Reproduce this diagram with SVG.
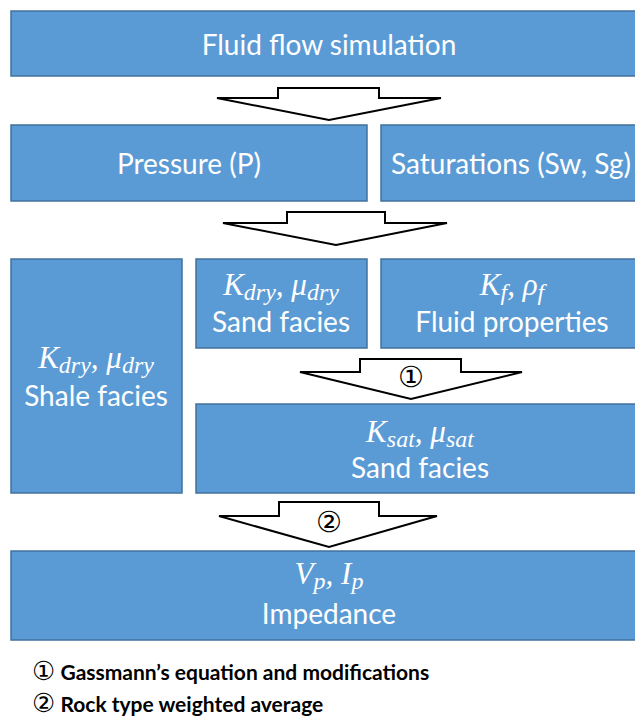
<svg xmlns="http://www.w3.org/2000/svg" width="635" height="717" viewBox="0 0 635 717">
  <style>
    .box { fill: #5b9bd5; stroke: #41719c; stroke-width: 1.5; }
    .lbl { font-family: Lato, "Open Sans", sans-serif; font-size: 28px; fill: #ffffff; text-anchor: middle; }
    .math { font-family: "Liberation Serif", "DejaVu Serif", serif; font-style: italic; font-size: 31px; fill: #ffffff; text-anchor: middle; }
    .sub { font-size: 24px; }
    .arrow { fill: #ffffff; stroke: #000000; stroke-width: 2; stroke-linejoin: miter; }
    .num { font-family: "DejaVu Sans", sans-serif; font-size: 29px; fill: #000000; text-anchor: middle; }
    .legend { font-family: Lato, "Open Sans", sans-serif; font-weight: bold; font-size: 21px; fill: #000000; }
    .lnum { font-family: "DejaVu Sans", sans-serif; font-weight: normal; font-size: 26px; }
  </style>

  <g id="connectors">
    <polygon class="arrow" points="278,88 379,88 379,98 441,98 329,120 217,98 278,98"/>
    <polygon class="arrow" points="287,212 385,212 385,223 447,223 336,245 223,223 287,223"/>
    <g id="step1">
      <polygon class="arrow" points="360,359 461,359 461,372 522,372 411,399 300,372 360,372"/>
      <text class="num" x="411" y="387">①</text>
    </g>
    <g id="step2">
      <polygon class="arrow" points="279,502 379,502 379,516 437,516 329,547 219,516 279,516"/>
      <text class="num" x="329" y="532">②</text>
    </g>
  </g>

  <g id="fluid-flow">
    <rect class="box" x="11" y="11" width="630" height="65"/>
    <text class="lbl" x="329" y="55">Fluid flow simulation</text>
  </g>

  <g id="pressure">
    <rect class="box" x="11" y="125" width="356" height="76"/>
    <text class="lbl" x="189" y="174">Pressure (P)</text>
  </g>

  <g id="saturations">
    <rect class="box" x="381" y="125" width="260" height="76"/>
    <text class="lbl" x="511" y="174">Saturations (Sw, Sg)</text>
  </g>

  <g id="shale-dry">
    <rect class="box" x="11" y="259" width="171" height="234"/>
    <text class="math" x="96" y="368">K<tspan class="sub" dy="5">dry</tspan><tspan dy="-5">, μ</tspan><tspan class="sub" dy="5">dry</tspan></text>
    <text class="lbl" x="96" y="406">Shale facies</text>
  </g>

  <g id="sand-dry">
    <rect class="box" x="196" y="259" width="171" height="89"/>
    <text class="math" x="281" y="295">K<tspan class="sub" dy="5">dry</tspan><tspan dy="-5">, μ</tspan><tspan class="sub" dy="5">dry</tspan></text>
    <text class="lbl" x="281" y="332">Sand facies</text>
  </g>

  <g id="fluid-props">
    <rect class="box" x="381" y="259" width="260" height="89"/>
    <text class="math" x="512" y="295">K<tspan class="sub" dy="5">f</tspan><tspan dy="-5">, ρ</tspan><tspan class="sub" dy="5">f</tspan></text>
    <text class="lbl" x="512" y="332">Fluid properties</text>
  </g>

  <g id="sand-sat">
    <rect class="box" x="196" y="404" width="445" height="89"/>
    <text class="math" x="420" y="442">K<tspan class="sub" dy="5">sat</tspan><tspan dy="-5">, μ</tspan><tspan class="sub" dy="5">sat</tspan></text>
    <text class="lbl" x="420" y="478">Sand facies</text>
  </g>

  <g id="impedance">
    <rect class="box" x="11" y="551" width="630" height="89"/>
    <text class="math" x="329" y="584">V<tspan class="sub" dy="5">p</tspan><tspan dy="-5">, I</tspan><tspan class="sub" dy="5">p</tspan></text>
    <text class="lbl" x="329" y="624">Impedance</text>
  </g>

  <g id="legend">
    <text class="legend" x="32" y="680"><tspan class="lnum">①</tspan> Gassmann’s equation and modifications</text>
    <text class="legend" x="32" y="712"><tspan class="lnum">②</tspan> Rock type weighted average</text>
  </g>
</svg>
